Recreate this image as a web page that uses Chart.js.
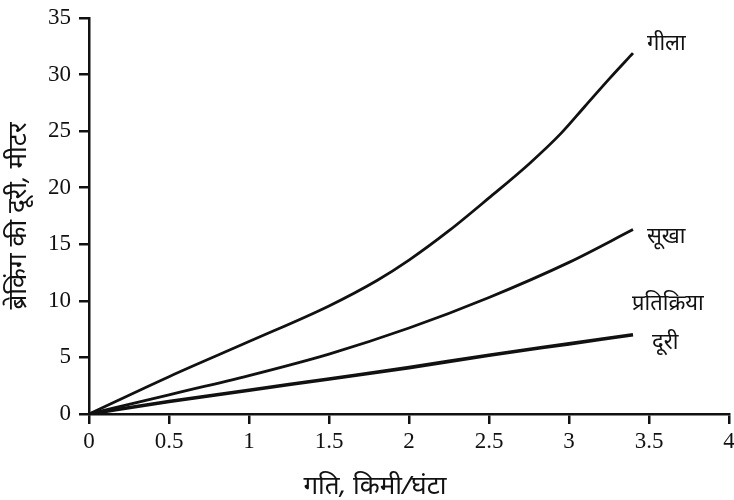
<!DOCTYPE html>
<html>
<head>
<meta charset="utf-8">
<script src="https://cdn.jsdelivr.net/npm/chart.js@4/dist/chart.umd.min.js"></script>
<style>
html,body{margin:0;padding:0;background:#fff;}
#wrap{width:734px;height:500px;position:relative;}
</style>
</head>
<body>
<div id="wrap"><canvas id="c" width="734" height="500"></canvas></div>
<script>
// ---- data ----
const wetSpeeds = [0, 0.5, 1, 1.5, 1.8, 2, 2.25, 2.5, 2.75, 2.95, 3.1, 3.25, 3.4];
const wetDistance = [0, 3.3, 6.4, 9.55, 11.8, 13.6, 16.2, 19.1, 22.1, 24.8, 27.2, 29.6, 31.9];
const speeds = [0, 0.5, 1, 1.5, 2, 2.5, 3, 3.4];
const dryDistance = [0, 1.7, 3.4, 5.3, 7.6, 10.3, 13.4, 16.3];
const reactionDistance = [0, 1.1, 2.1, 3.1, 4.1, 5.2, 6.2, 7.0];
const seriesNames = ['गीला', 'सूखा', 'प्रतिक्रिया दूरी'];
const xTitle = 'गति, किमी/घंटा';
const yTitle = 'ब्रेकिंग की दूरी, मीटर';

const toPts = (xs, ys) => ys.map((y, i) => ({x: xs[i], y}));
const devFont = "'Noto Sans', 'DejaVu Sans', 'Lato', sans-serif";
const numFont = "'Liberation Serif', 'DejaVu Serif', serif";

const labelPlugin = {
  id: 'curveLabels',
  afterDatasetsDraw(chart) {
    const ctx = chart.ctx;
    ctx.save();
    ctx.fillStyle = '#111';
    ctx.font = 'italic 22px ' + devFont;
    ctx.textBaseline = 'middle';
    ctx.textAlign = 'left';
    const offs = [[[14, -9]], [[14, 7]], [[-1, -31], [19, 8]]];
    chart.data.datasets.forEach((ds, i) => {
      const meta = chart.getDatasetMeta(i);
      const last = meta.data[meta.data.length - 1];
      const parts = i === 2 ? seriesNames[2].split(' ') : [seriesNames[i]];
      parts.forEach((p, j) => {
        ctx.fillText(p, last.x + offs[i][j][0], last.y + offs[i][j][1]);
      });
    });
    // x axis title (sits a little left of the axis centre in the reference)
    const xs = chart.scales.x;
    ctx.font = 'italic 26px ' + devFont;
    ctx.textAlign = 'center';
    ctx.fillText(xTitle, (xs.left + xs.right) / 2 - 34, 487);
    ctx.restore();
  }
};

new Chart(document.getElementById('c'), {
  type: 'line',
  data: {
    datasets: [
      {label: seriesNames[0], data: toPts(wetSpeeds, wetDistance), borderColor: '#111', borderWidth: 2.8},
      {label: seriesNames[1], data: toPts(speeds, dryDistance), borderColor: '#111', borderWidth: 2.8},
      {label: seriesNames[2], data: toPts(speeds, reactionDistance), borderColor: '#111', borderWidth: 3.6}
    ]
  },
  options: {
    responsive: false,
    animation: false,
    events: [],
    elements: {
      point: {radius: 0},
      line: {cubicInterpolationMode: 'monotone', fill: false, borderCapStyle: 'butt'}
    },
    layout: {padding: {top: 18, right: 5, bottom: 0, left: 0}},
    plugins: {legend: {display: false}, tooltip: {enabled: false}},
    scales: {
      x: {
        type: 'linear', min: 0, max: 4,
        afterFit(s) { s.height = 86; s.paddingLeft = 0; s.paddingRight = 0; },
        border: {color: '#111', width: 2.5},
        grid: {drawOnChartArea: false, drawTicks: true, tickLength: 10, color: '#111', lineWidth: 2.5},
        ticks: {stepSize: 0.5, color: '#111', padding: 4, font: {family: numFont, size: 23},
                callback: v => String(v)},
        title: {display: false}
      },
      y: {
        type: 'linear', min: 0, max: 35,
        afterFit(s) { s.width = 89; s.paddingTop = 0; s.paddingBottom = 0; },
        border: {color: '#111', width: 2.5},
        grid: {drawOnChartArea: false, drawTicks: true, tickLength: 10, color: '#111', lineWidth: 2.5},
        ticks: {stepSize: 5, color: '#111', padding: 8, font: {family: numFont, size: 23}},
        title: {display: true, text: yTitle, color: '#111', padding: {top: 3, bottom: 0},
                font: {family: devFont, size: 26, style: 'italic'}}
      }
    }
  },
  plugins: [labelPlugin]
});
</script>
</body>
</html>
